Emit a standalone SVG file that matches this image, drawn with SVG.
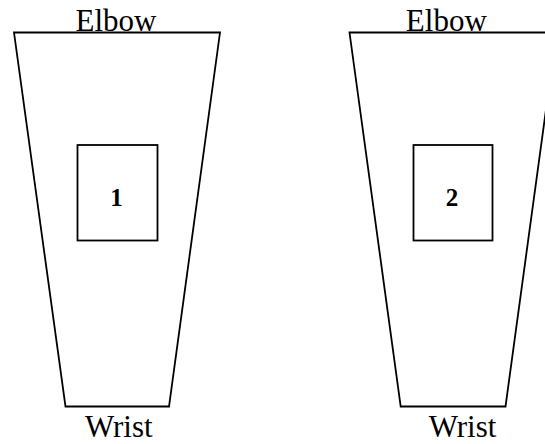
<svg xmlns="http://www.w3.org/2000/svg" width="545" height="444" viewBox="0 0 545 444">
<style>
.shape{fill:none;stroke:#000;stroke-width:1.8;stroke-linejoin:miter}
.lbl{font-family:"Liberation Serif","Times New Roman",serif;font-size:31px;fill:#000;text-anchor:middle}
.num{font-family:"Liberation Serif","Times New Roman",serif;font-size:25px;font-weight:bold;fill:#000;text-anchor:middle}
</style>
<rect width="545" height="444" fill="#fff"/>
<g id="arm1">
<polygon class="shape" points="14,32.5 220,32.5 169,406.5 65.5,406.5"/>
<text class="lbl" x="116" y="31">Elbow</text>
<text class="lbl" x="118.8" y="436.5">Wrist</text>
</g>
<g id="box1">
<rect class="shape" x="77.5" y="145" width="80" height="95.5"/>
<text class="num" x="116.5" y="206">1</text>
</g>
<g id="arm2">
<polygon class="shape" points="349.5,32.5 556.5,32.5 505.5,406.5 400.7,406.5"/>
<text class="lbl" x="446.3" y="31">Elbow</text>
<text class="lbl" x="462.5" y="436.5">Wrist</text>
</g>
<g id="box2">
<rect class="shape" x="413.5" y="145" width="79" height="95.5"/>
<text class="num" x="452" y="206">2</text>
</g>
<g id="connectors"></g>
</svg>
